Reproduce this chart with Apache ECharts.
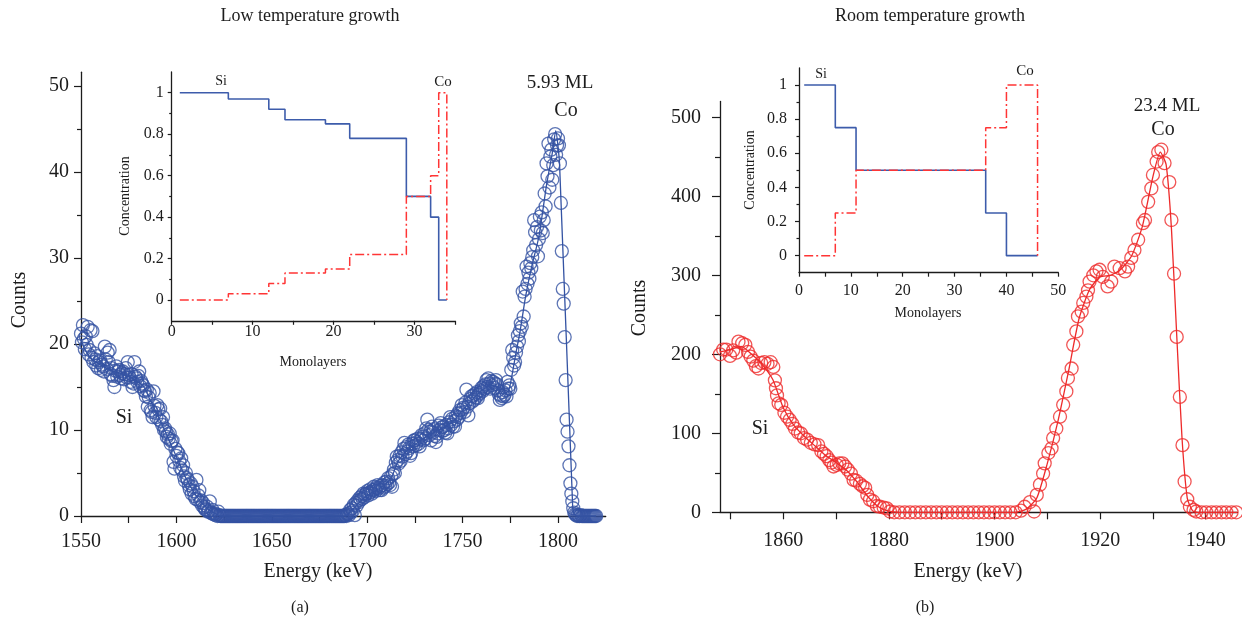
<!DOCTYPE html>
<html>
<head>
<meta charset="utf-8">
<script src="https://cdn.jsdelivr.net/npm/echarts@6/dist/echarts.min.js"></script>
<style>
html,body{margin:0;padding:0;background:#fff}
#chart{width:1242px;height:625px}
</style>
</head>
<body>
<div id="chart"></div>
<script>
// ---------- (a) Low temperature growth: spectrum in 0.5 keV channels from 1550 keV ----------
const LOW_E0 = 1550;
const LOW_STEP = 0.5;
// Si edge, 1550 - 1622.5 keV
const lowSiCounts = [
  21.2,20.2,22.2,20.6,19.4,20.9,19.9,22.0,18.8,19.3,
  21.6,18.4,21.5,17.9,18.9,18.2,17.5,18.6,17.2,17.9,
  18.1,17.0,17.6,17.4,16.8,19.7,18.2,17.1,19.0,17.9,
  19.3,16.5,17.2,16.3,15.8,15.0,16.9,17.4,16.2,16.8,
  17.0,16.4,16.0,16.6,16.8,15.9,16.5,17.2,16.1,17.9,
  16.4,16.1,15.6,16.5,15.0,15.4,17.9,16.2,16.0,15.6,
  16.3,16.8,15.1,15.7,15.4,15.2,14.6,14.5,13.9,14.7,
  12.7,13.8,14.3,12.3,12.1,11.5,14.5,12.8,12.0,11.5,
  12.9,12.4,11.2,12.5,11.0,10.6,11.5,10.0,10.2,9.8,
  9.2,9.5,9.0,9.6,8.4,8.7,8.8,6.3,5.5,7.8,
  7.0,7.4,7.3,6.4,5.6,6.7,5.3,5.9,4.6,4.1,
  5.0,4.4,4.2,3.6,3.1,3.8,2.6,3.4,2.9,2.3,
  2.0,4.2,1.9,2.4,3.0,1.6,1.8,1.2,1.5,1.0,
  0.8,0.7,1.1,0.5,0.6,1.7,0.4,0.3,0.7,0.2,
  0.3,0.1,0.2,0.0,0.5,0.1
];
// empty window between the edges, 1623 - 1687.5 keV
const lowGapCounts = [
  0,0,0,0,0,0,0,0,0,0, 0,0,0,0,0,0,0,0,0,0,
  0,0,0,0,0,0,0,0,0,0, 0,0,0,0,0,0,0,0,0,0,
  0,0,0,0,0,0,0,0,0,0, 0,0,0,0,0,0,0,0,0,0,
  0,0,0,0,0,0,0,0,0,0, 0,0,0,0,0,0,0,0,0,0,
  0,0,0,0,0,0,0,0,0,0, 0,0,0,0,0,0,0,0,0,0,
  0,0,0,0,0,0,0,0,0,0, 0,0,0,0,0,0,0,0,0,0,
  0,0,0,0,0,0,0,0,0,0
];
// Co signal, 1688 - 1820 keV
const lowCoCounts = [
  0.0,0.1,0.0,0.2,0.3,0.1,0.7,0.4,0.9,0.6,
  1.3,0.1,1.5,1.2,1.8,1.6,2.1,1.9,2.3,2.0,
  2.6,2.2,2.5,2.6,2.9,2.4,2.7,3.1,2.8,2.6,
  3.0,3.4,3.1,2.9,3.3,3.6,3.2,3.0,3.5,3.0,
  3.6,3.3,3.9,3.5,4.0,3.7,4.4,3.9,3.6,4.6,
  3.4,4.9,5.4,5.0,6.2,6.9,6.5,6.1,7.0,6.4,
  7.4,6.9,7.8,8.5,7.2,8.0,7.5,8.3,7.9,7.0,
  7.3,8.4,8.1,8.8,8.8,8.2,8.6,9.0,8.4,8.1,
  8.9,9.4,9.2,8.8,9.6,9.0,10.2,11.2,10.0,9.4,
  9.8,8.8,10.4,9.7,10.1,9.3,8.6,9.2,9.6,10.5,
  10.0,10.8,10.3,9.9,10.4,10.0,9.7,10.6,9.6,10.2,
  10.9,11.5,10.6,11.3,10.4,11.0,10.4,11.6,11.2,11.9,
  11.5,12.3,12.0,12.9,12.4,12.6,12.1,13.2,14.7,12.7,
  11.7,13.1,13.6,13.9,13.3,14.0,13.5,14.2,13.8,14.4,
  13.7,14.1,14.3,14.6,14.9,14.5,15.1,14.8,15.3,15.8,
  15.0,16.0,15.4,14.8,15.7,15.2,15.6,14.9,15.4,15.8,
  15.3,14.6,14.2,13.5,14.0,13.7,14.4,13.9,14.1,14.6,
  13.9,15.6,14.8,15.2,14.8,17.0,19.3,18.4,17.5,17.9,
  19.0,19.7,21.0,20.3,21.5,22.4,22.0,26.1,23.2,25.5,
  26.4,29.0,27.0,28.3,27.6,29.4,28.8,30.1,30.9,34.4,
  33.0,31.5,33.6,30.2,32.2,34.8,33.2,35.3,32.9,34.4,
  37.5,36.0,41.0,39.5,43.3,38.2,41.8,42.6,39.1,40.8,
  43.8,44.4,42.0,43.1,43.9,43.1,41.0,36.4,30.8,26.4,
  24.7,20.8,15.8,11.2,9.8,8.1,5.9,3.8,2.6,1.7,
  0.9,0.4,0.2,0.1,0.0,0.1,0.0,0.0,0.1,0.0,
  0.0,0.0,0.0,0.0,0.0,0.0,0.0,0.0,0.0,0.0,
  0.0,0.0,0.0,0.0,0.0
];
// simulated curve (energy, counts)
const lowFitEnergy = [1550,1552,1555,1560,1565,1570,1575,1580,1583,1586,1590,1595,1600,1605,1610,1615,1620,1624,1688,1691,1695,1700,1705,1710,1713,1716,1720,1725,1730,1735,1740,1745,1750,1755,1760,1765,1768,1771,1774,1776,1778,1780,1783,1786,1790,1794,1797,1798.8,1800.8,1807.7,1808.5,1810,1820];
const lowFitCounts = [20.5,19.4,18.4,17.6,17.0,16.6,16.2,15.6,15.0,13.6,11.8,9.4,6.9,4.4,2.5,1.1,0.3,0,0,0.4,1.4,2.4,3.0,3.8,4.6,6.3,7.4,8.3,9.1,9.7,10.3,11.0,12.3,13.5,14.6,15.2,15.0,14.2,14.5,16.5,19.0,21.3,25.5,28.8,32.5,38.5,42.2,44.8,41.0,1.0,0.2,0,0];

// ---------- (b) Room temperature growth ----------
const roomEnergy = [
  1848.0,1848.6,1849.2,1849.9,1850.5,1851.1,1851.5,1852.2,1852.8,1853.3,
  1853.8,1854.3,1854.8,1855.3,1855.8,1856.4,1857.0,1857.6,1858.1,1858.4,
  1858.6,1858.8,1859.1,1859.6,1860.2,1860.7,1861.2,1861.7,1862.2,1862.8,
  1863.3,1863.9,1864.5,1865.2,1865.9,1866.6,1867.2,1867.7,1868.2,1868.7,
  1869.1,1869.5,1870.1,1870.6,1871.2,1871.7,1872.2,1872.8,1873.3,1873.8,
  1874.5,1875.0,1875.5,1875.9,1876.4,1877.0,1877.7,1878.3,1879.0,1879.6,
  1880.2,1881,1882,1883,1884,1885,1886,1887,1888,1889,
  1890,1891,1892,1893,1894,1895,1896,1897,1898,1899,
  1900,1901,1902,1903,1904,1905.0,1905.7,1906.7,1907.5,1908.0,
  1908.6,1909.2,1909.5,1910.2,1910.8,1911.1,1911.7,1912.4,1913.0,1913.6,
  1913.9,1914.6,1914.9,1915.5,1915.8,1916.5,1916.8,1917.4,1917.7,1918.0,
  1918.7,1919.3,1919.9,1920.5,1921.4,1922.1,1922.7,1923.7,1924.7,1925.3,
  1925.9,1926.5,1927.2,1928.1,1928.5,1929.1,1929.7,1930.0,1930.7,1931.0,
  1931.6,1932.2,1933.1,1933.5,1934.0,1934.5,1935.1,1935.6,1936.0,1936.5,
  1937.0,1937.7,1938.2,1939.2,1940.1,1941.1,1942.0,1943.0,1943.9,1944.9,
  1945.8
];
const roomCounts = [
  200,206,206,198,205,202,216,214,212,203,
  197,192,185,182,189,190,188,190,184,167,
  157,148,138,136,126,121,117,112,106,101,
  100,94,92,88,86,85,77,74,71,66,
  63,58,60,62,62,58,54,49,41,40,
  36,33,31,22,16,14,8,7,6,5,
  1,0,0,0,0,0,0,0,0,0,
  0,0,0,0,0,0,0,0,0,0,
  0,0,0,0,0,2,7,13,1,22,
  35,49,62,75,81,94,106,121,136,153,
  170,182,212,229,248,254,265,273,281,292,
  300,305,307,298,286,292,311,309,305,311,
  322,332,345,366,370,393,410,427,444,456,
  459,442,418,370,302,222,146,85,39,16.5,
  7,3,1,0,0,0,0,0,0,0,
  0
];
const roomFitEnergy = [1848,1850,1852,1854,1856,1858,1860,1862,1864,1866,1868,1870,1872,1874,1876,1878,1880,1882,1904,1906,1908,1910,1912,1914,1916,1918,1920,1922,1924,1926,1928,1930,1931.4,1932.5,1933.5,1934.5,1935.5,1936.5,1937.5,1938.5,1946];
const roomFitCounts = [203,206,210,200,187,168,132,110,96,84,72,63,53,38,20,7,1.5,0,0,4,18,62,115,178,245,282,298,300,308,325,362,425,456,440,360,225,95,18,2,0,0];

// ---------- inset depth profiles (layer edges in monolayers, concentration per layer) ----------
const lowLayerEdges = [1,7,12,14,19,22,29,32,33,34];
const lowSiConc = [1,0.97,0.92,0.87,0.85,0.78,0.5,0.4,0];
const lowCoConc = [0,0.03,0.08,0.13,0.15,0.22,0.5,0.6,1];
const roomLayerEdges = [1,7,11,36,40,46];
const roomSiConc = [1,0.75,0.5,0.25,0];
const roomCoConc = [0,0.25,0.5,0.75,1];

// ---------- tick positions ----------
const lowEnergyTicks = [1550,1575,1600,1625,1650,1675,1700,1725,1750,1775,1800];
const lowEnergyLabels = [1550,1600,1650,1700,1750,1800];
const lowCountTicks = [0,10,20,30,40,50];
const lowCountMinor = [5,15,25,35,45];
const roomEnergyTicks = [1850,1860,1870,1880,1890,1900,1910,1920,1930,1940];
const roomEnergyLabels = [1860,1880,1900,1920,1940];
const roomCountTicks = [0,100,200,300,400,500];
const roomCountMinor = [50,150,250,350,450];
const concTicks = [0,0.2,0.4,0.6,0.8,1];
const concMinor = [0.1,0.3,0.5,0.7,0.9];
const lowLayerTicks = [0,5,10,15,20,25,30,35];
const lowLayerLabels = [0,10,20,30];
const roomLayerTicks = [0,5,10,15,20,25,30,35,40,45,50];
const roomLayerLabels = [0,10,20,30,40,50];

// ---------- helpers ----------
const channels = (e0, step, counts) => counts.map((c, i) => [e0 + i * step, c]);
const pairs = (xs, ys) => xs.map((x, i) => [x, ys[i]]);
function stepProfile(edges, conc, dropToZero) {
  const pts = conc.map((c, i) => [edges[i], c]);
  pts.push([edges[edges.length - 1], conc[conc.length - 1]]);
  if (dropToZero) pts.push([edges[edges.length - 1], 0]);
  return pts;
}

const lowCounts = lowSiCounts.concat(lowGapCounts, lowCoCounts);

const BLUE = '#3453a3';
const RED = '#ee2a2a';
const INSET_BLUE = '#3d5cab';
const INSET_RED = '#ff3535';
const INK = '#1c1c1c';
const SERIF = '"Liberation Serif", "DejaVu Serif", serif';

// an axis with its ticks and labels placed at explicit values
function axis(position, gridIndex, min, max, ticks, labels, o) {
  o = o || {};
  return {
    type: 'value', position: position, gridIndex: gridIndex, min: min, max: max, offset: 0,
    axisLine: { show: o.line !== false, onZero: false, lineStyle: { color: INK, width: 1.3 } },
    axisTick: { show: true, inside: false, length: o.tickLen || 7, customValues: ticks,
                lineStyle: { color: INK, width: 1.2 } },
    axisLabel: labels ? {
      show: true, customValues: labels, margin: o.margin || 12,
      color: INK, fontFamily: SERIF, fontSize: o.fontSize || 20,
      formatter: v => String(Math.round(v * 10) / 10)
    } : { show: false },
    splitLine: { show: false }
  };
}
const xAxisAt = (...a) => axis('bottom', ...a);
const yAxisAt = (...a) => axis('left', ...a);
// a bare companion y axis carrying only the shorter intermediate ticks
const minorY = (gridIndex, min, max, ticks, len) => axis('left', gridIndex, min, max, ticks, null, { line: false, tickLen: len });

function text(str, x, y, size, rotate) {
  return {
    type: 'text', x: x, y: y, rotation: rotate ? Math.PI / 2 : 0, silent: true,
    style: { text: str, fill: INK, font: size + 'px ' + SERIF, align: 'center', verticalAlign: 'middle' }
  };
}

const chart = echarts.init(document.getElementById('chart'), null, { renderer: 'canvas' });

chart.setOption({
  animation: false,
  backgroundColor: '#ffffff',
  grid: [
    { left: 81, top: 72.24, width: 524.7, height: 443.76, outerBoundsMode: 'none' },
    { left: 171.7, top: 72, width: 283.2, height: 248.8, outerBoundsMode: 'none' },
    { left: 720, top: 101.5, width: 517.4, height: 410.8, outerBoundsMode: 'none' },
    { left: 799, top: 67.9, width: 259.3, height: 204.8, outerBoundsMode: 'none' }
  ],
  xAxis: [
    xAxisAt(0, 1550, 1825, lowEnergyTicks, lowEnergyLabels, { margin: 16 }),
    xAxisAt(1, 0, 35, lowLayerTicks, lowLayerLabels, { tickLen: 4, margin: 3, fontSize: 16 }),
    xAxisAt(2, 1848, 1946, roomEnergyTicks, roomEnergyLabels, { margin: 18 }),
    xAxisAt(3, 0, 50, roomLayerTicks, roomLayerLabels, { tickLen: 4, margin: 10, fontSize: 16 })
  ],
  yAxis: [
    yAxisAt(0, 0, 51.6, lowCountTicks, lowCountTicks, { margin: 12 }),
    minorY(0, 0, 51.6, lowCountMinor, 4),
    yAxisAt(1, -0.1, 1.1, concTicks, concTicks, { tickLen: 4, margin: 8, fontSize: 16 }),
    minorY(1, -0.1, 1.1, concMinor, 2.5),
    yAxisAt(2, 0, 520, roomCountTicks, roomCountTicks, { tickLen: 8, margin: 19 }),
    minorY(2, 0, 520, roomCountMinor, 5),
    yAxisAt(3, -0.1, 1.1, concTicks, concTicks, { tickLen: 4, margin: 12, fontSize: 16 }),
    minorY(3, -0.1, 1.1, concMinor, 2.5)
  ],
  series: [
    {
      type: 'scatter', xAxisIndex: 0, yAxisIndex: 0, clip: false, silent: true,
      symbol: 'circle', symbolSize: 13,
      itemStyle: { color: 'rgba(0,0,0,0)', borderColor: BLUE, borderWidth: 1.3 },
      data: channels(LOW_E0, LOW_STEP, lowCounts)
    },
    {
      type: 'line', xAxisIndex: 0, yAxisIndex: 0, clip: false, silent: true,
      showSymbol: false, symbol: 'none', smooth: 0.2,
      lineStyle: { color: BLUE, width: 1.3 },
      data: pairs(lowFitEnergy, lowFitCounts)
    },
    {
      type: 'line', xAxisIndex: 1, yAxisIndex: 2, step: 'end', silent: true,
      showSymbol: false, symbol: 'none',
      lineStyle: { color: INSET_BLUE, width: 1.6 },
      data: stepProfile(lowLayerEdges, lowSiConc, false)
    },
    {
      type: 'line', xAxisIndex: 1, yAxisIndex: 2, step: 'end', silent: true,
      showSymbol: false, symbol: 'none',
      lineStyle: { color: INSET_RED, width: 1.5, type: [9, 3, 2, 3] },
      data: stepProfile(lowLayerEdges, lowCoConc, true)
    },
    {
      type: 'scatter', xAxisIndex: 2, yAxisIndex: 4, clip: false, silent: true,
      symbol: 'circle', symbolSize: 13,
      itemStyle: { color: 'rgba(0,0,0,0)', borderColor: RED, borderWidth: 1.3 },
      data: pairs(roomEnergy, roomCounts)
    },
    {
      type: 'line', xAxisIndex: 2, yAxisIndex: 4, clip: false, silent: true,
      showSymbol: false, symbol: 'none', smooth: 0.2,
      lineStyle: { color: RED, width: 1.3 },
      data: pairs(roomFitEnergy, roomFitCounts)
    },
    {
      type: 'line', xAxisIndex: 3, yAxisIndex: 6, step: 'end', silent: true,
      showSymbol: false, symbol: 'none',
      lineStyle: { color: INSET_BLUE, width: 1.6 },
      data: stepProfile(roomLayerEdges, roomSiConc, false)
    },
    {
      type: 'line', xAxisIndex: 3, yAxisIndex: 6, step: 'end', silent: true,
      showSymbol: false, symbol: 'none',
      lineStyle: { color: INSET_RED, width: 1.5, type: [9, 3, 2, 3] },
      data: stepProfile(roomLayerEdges, roomCoConc, true)
    }
  ],
  graphic: [
    text('Low temperature growth', 310, 16, 18),
    text('Room temperature growth', 930, 16, 18),
    text('Counts', 20, 300, 20, true),
    text('Energy (keV)', 318, 572, 20),
    text('Counts', 640, 308, 20, true),
    text('Energy (keV)', 968, 572, 20),
    text('(a)', 300, 608, 16),
    text('(b)', 925, 608, 16),
    text('5.93 ML', 560, 83, 19),
    text('Co', 566, 111, 20),
    text('Si', 124, 418, 20),
    text('23.4 ML', 1167, 106, 19),
    text('Co', 1163, 130, 20),
    text('Si', 760, 429, 20),
    text('Si', 221, 81, 14),
    text('Co', 443, 82, 15),
    text('Concentration', 125, 196, 14, true),
    text('Monolayers', 313, 362, 14),
    text('Si', 821, 74, 14),
    text('Co', 1025, 71, 15),
    text('Concentration', 750, 170, 14, true),
    text('Monolayers', 928, 313, 14)
  ]
});
</script>
</body>
</html>
